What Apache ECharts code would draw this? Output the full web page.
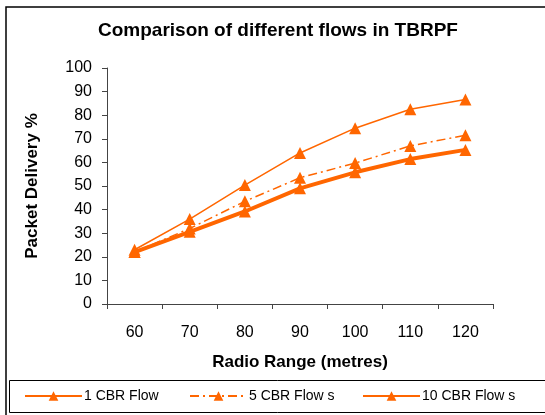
<!DOCTYPE html>
<html><head><meta charset="utf-8">
<script src="https://cdn.jsdelivr.net/npm/echarts@6/dist/echarts.min.js"></script>
<style>html,body{margin:0;padding:0;background:#fff}#c{width:545px;height:415px}</style>
</head><body><div id="c"></div>
<script>
const categories = ['60','70','80','90','100','110','120'];
const flow1 = [23, 36, 50.4, 64, 74.5, 82.5, 86.7];
const flow5 = [22, 32, 43.5, 53.5, 59.7, 67, 71.5];
const flow10 = [22, 30.6, 39.2, 49, 55.8, 61.4, 65.3];
const seriesNames = ['1 CBR Flow', '5 CBR Flow s', '10 CBR Flow s'];
const yTicks = [0,10,20,30,40,50,60,70,80,90,100];

const C = '#FF6600';
const FONT = 'Liberation Sans, Arial, sans-serif';
const chart = echarts.init(document.getElementById('c'), null, {renderer:'canvas'});
function legendCfg(name, left){
  return {data:[name], left:left, top:389, itemWidth:57, itemHeight:12, itemGap:0,
    textStyle:{fontFamily:FONT, fontSize:14, color:'#000', padding:[0,0,0,-3]}, padding:0, selectedMode:false};
}
chart.setOption({
  animation:false,
  backgroundColor:'#fff',
  title:{text:'Comparison of different flows in TBRPF', left:98, top:21, padding:0,
    textStyle:{fontFamily:FONT, fontSize:19, fontWeight:'bold', color:'#000'}},
  grid:{left:107, right:52, top:68, bottom:111, containLabel:false},
  xAxis:{type:'category', data:categories, boundaryGap:true,
    name:'Radio Range (metres)', nameLocation:'middle', nameGap:50,
    nameTextStyle:{fontFamily:FONT, fontSize:17, fontWeight:'bold', color:'#000'},
    axisLine:{lineStyle:{color:'#444', width:1}},
    axisTick:{show:true, length:5, lineStyle:{color:'#444'}},
    axisLabel:{fontFamily:FONT, fontSize:16, color:'#000', margin:21}},
  yAxis:{type:'value', min:0, max:100, interval:10,
    name:'Packet Delivery %', nameLocation:'middle', nameGap:66, nameRotate:90,
    nameTextStyle:{fontFamily:FONT, fontSize:17, fontWeight:'bold', color:'#000'},
    axisLine:{show:true, lineStyle:{color:'#444', width:1}},
    axisTick:{show:true, length:5, lineStyle:{color:'#444'}},
    splitLine:{show:false},
    axisLabel:{fontFamily:FONT, fontSize:16, color:'#000', margin:15,
      formatter:v=>yTicks.includes(v)?String(v):''}},
  legend:[legendCfg(seriesNames[0],24), legendCfg(seriesNames[1],189), legendCfg(seriesNames[2],362)],
  graphic:[
    {type:'rect', shape:{x:6,y:7,width:600,height:500}, style:{fill:'none', stroke:'#000', lineWidth:1.5}, silent:true, z:-1},
    {type:'rect', shape:{x:9.5,y:380.5,width:600,height:32}, style:{fill:'none', stroke:'#000', lineWidth:1}, silent:true, z:-1}
  ],
  series:[
    {name:seriesNames[0], type:'line', data:flow1, symbol:'triangle', symbolSize:12,
      lineStyle:{color:C, width:1.5}, itemStyle:{color:C}},
    {name:seriesNames[1], type:'line', data:flow5, symbol:'triangle', symbolSize:12,
      lineStyle:{color:C, width:1.5, type:[9,4,2,4]}, itemStyle:{color:C}},
    {name:seriesNames[2], type:'line', data:flow10, symbol:'triangle', symbolSize:12,
      lineStyle:{color:C, width:4}, itemStyle:{color:C}}
  ]
});
</script></body></html>
